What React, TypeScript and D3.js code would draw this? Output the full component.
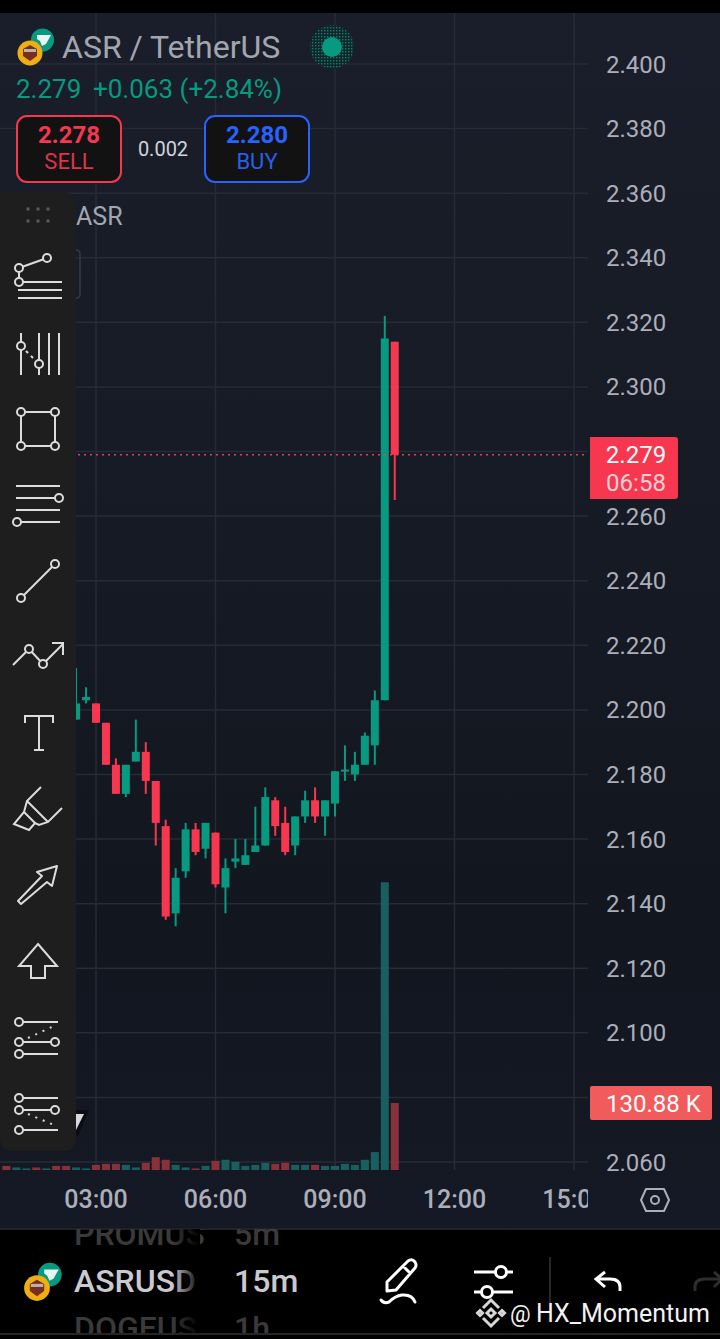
// ASR / TetherUS 15m candlestick chart, phone screenshot layout

import * as d3 from "d3";

const priceTicks = [2.4, 2.38, 2.36, 2.34, 2.32, 2.3, 2.28, 2.26, 2.24, 2.22, 2.2, 2.18, 2.16, 2.14, 2.12, 2.1, 2.08, 2.06];
const hiddenPriceLabels = [2.28, 2.08];
const timeTicks = [3, 6, 9, 12, 15];
const timeLabels = ["03:00", "06:00", "09:00", "12:00", "15:00"];

// first visible candle opens 02:30, one candle each 15 minutes
const candleStart = 2.5;
const opens = [2.197, 2.203, 2.202, 2.196, 2.183, 2.174, 2.184, 2.187, 2.178, 2.164, 2.137, 2.15, 2.163, 2.157, 2.162, 2.145, 2.153, 2.152, 2.156, 2.158, 2.172, 2.165, 2.158, 2.167, 2.172, 2.167, 2.171, 2.181, 2.18, 2.183, 2.189, 2.203, 2.314];
const highs = [2.213, 2.207, 2.202, 2.196, 2.185, 2.183, 2.197, 2.19, 2.178, 2.166, 2.151, 2.165, 2.165, 2.165, 2.162, 2.154, 2.16, 2.16, 2.17, 2.176, 2.173, 2.17, 2.167, 2.175, 2.176, 2.172, 2.181, 2.189, 2.187, 2.193, 2.206, 2.322, 2.314];
const lows = [2.197, 2.202, 2.196, 2.183, 2.174, 2.173, 2.184, 2.174, 2.158, 2.135, 2.133, 2.148, 2.155, 2.154, 2.145, 2.137, 2.151, 2.152, 2.156, 2.158, 2.161, 2.155, 2.155, 2.165, 2.165, 2.161, 2.167, 2.178, 2.178, 2.183, 2.183, 2.203, 2.265];
const closes = [2.202, 2.204, 2.196, 2.183, 2.174, 2.183, 2.187, 2.178, 2.165, 2.136, 2.148, 2.163, 2.156, 2.165, 2.146, 2.151, 2.154, 2.155, 2.158, 2.173, 2.164, 2.156, 2.167, 2.172, 2.167, 2.172, 2.181, 2.1815, 2.183, 2.192, 2.203, 2.315, 2.279];

// volume in thousands, first bar at 00:45
const volumeStart = 0.75;
const volumes = [8, 5, 3, 5, 3, 8, 8, 5, 3, 10, 12, 12, 10, 5, 14, 25, 20, 10, 5, 3, 8, 18, 20, 16, 8, 10, 14, 12, 14, 10, 10, 10, 8, 8, 12, 10, 20, 35, 562, 130.88];
const volumeUp = [0, 1, 1, 0, 1, 0, 0, 1, 1, 0, 0, 0, 1, 1, 0, 0, 0, 1, 1, 0, 1, 0, 1, 1, 1, 1, 1, 0, 0, 1, 1, 0, 1, 1, 1, 1, 1, 1, 1, 0];

const lastPrice = 2.279;
const lastVolume = "130.88 K";

const GREEN = "#089981";
const RED = "#F7374F";
const BLUE = "#2962FF";
const GRID = "#272B36";
const AXIS_TEXT = "#ACAFB9";
const FONT = "Roboto, sans-serif";
const ICON = "#DCDCDC";
const PANEL = "#1E1E1E";

const y = d3.scaleLinear().domain([2.06, 2.4]).range([1162, 64]);
const x = d3.scaleLinear().domain([3, 15]).range([96, 574]);
const volumeY = d3.scaleLinear().domain([0, 130.88]).range([1170, 1103]);

function Dot({ cx, cy }: { cx: number; cy: number }) {
  return <circle cx={cx} cy={cy} r={4} fill={PANEL} stroke={ICON} strokeWidth={2} />;
}

function Toolbar() {
  const common = { stroke: ICON, strokeWidth: 2, fill: "none" };
  const hLine = (yy: number, a: number, b: number) => <line x1={a} x2={b} y1={yy} y2={yy} {...common} />;
  const vLine = (xx: number, a: number, b: number) => <line x1={xx} x2={xx} y1={a} y2={b} {...common} />;
  return (
    <g>
      <path d="M0,192 H64 a12,12 0 0 1 12,12 V1139 a12,12 0 0 1 -12,12 H12 a12,12 0 0 1 -12,-12 Z" fill={PANEL} />
      {[28, 38, 48].flatMap((gx) => [209, 221].map((gy) => <rect key={`${gx}-${gy}`} x={gx - 1.5} y={gy - 1.5} width={3} height={3} fill="#5a5a5a" />))}

      {/* trend fib */}
      <path d="M19,268 L47,258 M19,268 V282" {...common} />
      {hLine(282, 19, 62)}
      {hLine(290, 18, 62)}
      {hLine(298, 18, 62)}
      <Dot cx={47} cy={258} />
      <Dot cx={19} cy={268} />
      <Dot cx={19} cy={282} />

      {/* fib time zones */}
      {vLine(21, 333, 375)}
      {vLine(39, 333, 375)}
      {vLine(49, 333, 375)}
      {vLine(59, 333, 375)}
      <line x1={21} y1={346} x2={39} y2={364} stroke={ICON} strokeWidth={2} strokeDasharray="3 4" />
      <Dot cx={21} cy={346} />
      <Dot cx={39} cy={364} />

      {/* rectangle */}
      <rect x={21} y={412} width={34} height={34} {...common} />
      <Dot cx={21} cy={412} />
      <Dot cx={55} cy={412} />
      <Dot cx={21} cy={446} />
      <Dot cx={55} cy={446} />

      {/* horizontal lines */}
      {hLine(486, 16, 60)}
      {hLine(498, 16, 59)}
      {hLine(510, 16, 60)}
      {hLine(522, 17, 60)}
      <Dot cx={59} cy={498} />
      <Dot cx={17} cy={522} />

      {/* trend line */}
      <line x1={21} y1={598} x2={55} y2={564} {...common} />
      <Dot cx={21} cy={598} />
      <Dot cx={55} cy={564} />

      {/* path */}
      <path d="M13,665 L29,649 L43,664 L63,644 M52,643 H63 V655" {...common} />
      <Dot cx={29} cy={649} />
      <Dot cx={43} cy={664} />

      {/* text */}
      <path d="M25,723 V716 H53 V723 M39,716 V750 M34,750 H44" {...common} />

      {/* highlighter */}
      <path d="M41,787 L27,801 L24,812 L14,824 L29,830 L35,823 L39,825 L48,822 L62,808 M27,801 L48,822 M24,812 L35,823" {...common} />

      {/* arrow */}
      <path d="M57,866 L37,872 L42,876 L18,901 L21,904 L47,882 L52,886 Z" {...common} strokeLinejoin="round" />

      {/* arrow up */}
      <path d="M38,944 L57,966 H45 V978 H31 V966 H19 Z" {...common} />

      {/* fib channel up */}
      {hLine(1022, 19, 58)}
      {hLine(1042, 19, 55)}
      {hLine(1054, 19, 58)}
      <line x1={28} y1={1038} x2={54} y2={1026} stroke={ICON} strokeWidth={2} strokeDasharray="2 6" />
      <Dot cx={19} cy={1022} />
      <Dot cx={19} cy={1042} />
      <Dot cx={55} cy={1042} />
      <Dot cx={19} cy={1054} />

      {/* fib channel down */}
      {hLine(1098, 19, 58)}
      {hLine(1110, 19, 55)}
      {hLine(1130, 19, 58)}
      <line x1={28} y1={1114} x2={54} y2={1125} stroke={ICON} strokeWidth={2} strokeDasharray="2 6" />
      <Dot cx={19} cy={1098} />
      <Dot cx={19} cy={1110} />
      <Dot cx={55} cy={1110} />
      <Dot cx={19} cy={1130} />
    </g>
  );
}

function CoinPair({ cx, cy, scale }: { cx: number; cy: number; scale: number }) {
  return (
    <g transform={`translate(${cx},${cy}) scale(${scale})`}>
      <circle cx={12.5} cy={-13} r={11.5} fill={GREEN} />
      <path d="M7,-18 H21 L16,-9 L12,-7 L10,-12 L7,-14 Z" fill="#E8F5F2" />
      <circle cx={0} cy={0} r={12.5} fill="#EFAE12" />
      <path d="M-7,-4 L0,-8 L7,-4 V3 L0,8 L-7,3 Z" fill="#7A2E22" />
      <rect x={-6} y={-4} width={12} height={3} fill="#B9B4A8" />
    </g>
  );
}

export default function App() {
  const bodyWidth = 8;
  const volumeWidth = 8;

  return (
    <svg
      width={720}
      height={1339}
      viewBox="0 0 720 1339"
      style={{ position: "absolute", left: 0, top: 0, display: "block", fontFamily: FONT }}
    >
      <defs>
        <linearGradient id="chart-bg" x1="0" y1="0" x2="0" y2="1">
          <stop offset="0%" stopColor="#1A1E2A" />
          <stop offset="45%" stopColor="#161A24" />
          <stop offset="75%" stopColor="#12161F" />
          <stop offset="100%" stopColor="#151925" />
        </linearGradient>
        <linearGradient id="symbol-fade" x1="0" y1="0" x2="1" y2="0">
          <stop offset="0%" stopColor="#000" stopOpacity={0} />
          <stop offset="100%" stopColor="#000" stopOpacity={1} />
        </linearGradient>
        <clipPath id="plot-clip">
          <rect x={0} y={13} width={588} height={1215} />
        </clipPath>
        <clipPath id="bottom-clip">
          <rect x={0} y={1229} width={720} height={104} />
        </clipPath>
        <pattern id="halo-dots" width={3} height={3} patternUnits="userSpaceOnUse">
          <rect width={3} height={3} fill="#12262A" />
          <rect width={1.4} height={1.4} fill="#0F7F70" />
        </pattern>
      </defs>

      <rect x={0} y={0} width={720} height={1339} fill="#000" />
      <rect x={0} y={13} width={720} height={1215} fill="url(#chart-bg)" />

      {/* grid */}
      <g stroke={GRID} strokeWidth={1.5}>
        {priceTicks.map((t) => (
          <line key={t} x1={0} x2={588} y1={y(t)} y2={y(t)} />
        ))}
        {timeTicks.map((t) => (
          <line key={t} x1={x(t)} x2={x(t)} y1={13} y2={1170} />
        ))}
      </g>

      {/* volume */}
      <g>
        {volumes.map((v, i) => (
          <rect
            key={i}
            x={x(volumeStart + i * 0.25) - volumeWidth / 2}
            y={volumeY(v)}
            width={volumeWidth}
            height={volumeY(0) - volumeY(v)}
            fill={volumeUp[i] ? "#1A5F60" : "#87323B"}
          />
        ))}
      </g>

      {/* candles */}
      <g>
        {opens.map((open, i) => {
          const close = closes[i];
          const cx = x(candleStart + i * 0.25);
          const color = close >= open ? GREEN : RED;
          const top = y(Math.max(open, close));
          const bottom = y(Math.min(open, close));
          return (
            <g key={i}>
              <rect x={cx - 1} y={y(highs[i])} width={2} height={y(lows[i]) - y(highs[i])} fill={color} />
              <rect x={cx - bodyWidth / 2} y={top} width={bodyWidth} height={Math.max(bottom - top, 2)} fill={color} />
            </g>
          );
        })}
      </g>

      {/* last price line */}
      <line x1={0} x2={588} y1={y(lastPrice)} y2={y(lastPrice)} stroke={RED} strokeWidth={1.5} strokeDasharray="2 4" />

      {/* price axis */}
      <g fontSize={24} fill={AXIS_TEXT}>
        {priceTicks
          .filter((t) => !hiddenPriceLabels.includes(t))
          .map((t) => (
            <text key={t} x={606} y={y(t) + 8.5}>
              {d3.format(".3f")(t)}
            </text>
          ))}
      </g>
      <path d="M590,437 H675 a3,3 0 0 1 3,3 V496 a3,3 0 0 1 -3,3 H590 Z" fill={RED} />
      <text x={636} y={463} fontSize={24} fill="#FFFFFF" textAnchor="middle">
        {d3.format(".3f")(lastPrice)}
      </text>
      <text x={636} y={491} fontSize={24} fill="#FBD0D5" textAnchor="middle">
        06:58
      </text>
      <rect x={590} y={1086} width={122} height={34} rx={2} fill="#F15B5B" />
      <text x={606} y={1112} fontSize={24} fill="#FFFFFF">
        {lastVolume}
      </text>

      {/* time axis */}
      <g clipPath="url(#plot-clip)" fontSize={25} fontWeight={500} fill={AXIS_TEXT} textAnchor="middle">
        {timeTicks.map((t, i) => (
          <text key={t} x={x(t)} y={1208}>
            {timeLabels[i]}
          </text>
        ))}
      </g>
      <path d="M646,1189 H664 L669,1200 L664,1211 H646 L641,1200 Z" fill="none" stroke={AXIS_TEXT} strokeWidth={2} strokeLinejoin="round" />
      <circle cx={655} cy={1200} r={4} fill="none" stroke={AXIS_TEXT} strokeWidth={2} />

      {/* header legend */}
      <CoinPair cx={30} cy={53} scale={1} />
      <text x={62} y={58} fontSize={32} fill="#A3A6AF">
        ASR / TetherUS
      </text>
      <circle cx={332} cy={47} r={22} fill="url(#halo-dots)" />
      <circle cx={332} cy={47} r={10} fill={GREEN} />
      <text x={16} y={98} fontSize={26} fill={GREEN}>
        2.279
      </text>
      <text x={93} y={98} fontSize={26} fill={GREEN}>
        +0.063 (+2.84%)
      </text>

      <rect x={17} y={116} width={104} height={66} rx={10} fill="#121212" stroke={RED} strokeWidth={2} />
      <text x={69} y={143} fontSize={24} fontWeight={700} fill={RED} textAnchor="middle">
        2.278
      </text>
      <text x={69} y={168.5} fontSize={22} fill="#E0334A" textAnchor="middle">
        SELL
      </text>
      <text x={163} y={156} fontSize={20} fill="#D1D4DC" textAnchor="middle">
        0.002
      </text>
      <rect x={205} y={116} width={104} height={66} rx={10} fill="#121212" stroke={BLUE} strokeWidth={2} />
      <text x={257} y={143} fontSize={24} fontWeight={700} fill={BLUE} textAnchor="middle">
        2.280
      </text>
      <text x={257} y={168.5} fontSize={22} fill="#2A5FE8" textAnchor="middle">
        BUY
      </text>
      <text x={76} y={225} fontSize={25} fill="#A3A6AF">
        ASR
      </text>

      {/* bit of the indicator panel showing behind the toolbar */}
      <path d="M72,250 H76 Q80,250 80,254 V294 Q80,298 76,298 H72" fill="none" stroke="#363A45" strokeWidth={1.5} />
      <path d="M70,1110 H89 L78,1136 H70 Z" fill="#0B0D12" />
      <path d="M74,1114 H84 L76,1130 H74 Z" fill="#D8D8DC" />

      <Toolbar />

      {/* bottom bar */}
      <rect x={0} y={1228} width={720} height={2} fill="#222" />
      <rect x={0} y={1333} width={720} height={2} fill="#252525" />
      <g clipPath="url(#bottom-clip)" fontSize={32} fontWeight={500}>
        <text x={74} y={1245} fill="#3A3A3A">
          PROMUS
        </text>
        <text x={234} y={1245} fill="#3A3A3A">
          5m
        </text>
        <text x={74} y={1292} fill="#C9C9CE">
          ASRUSD
        </text>
        <text x={234} y={1292} fill="#C9C9CE">
          15m
        </text>
        <text x={74} y={1339} fill="#3A3A3A">
          DOGEUS
        </text>
        <text x={234} y={1339} fill="#3A3A3A">
          1h
        </text>
        <rect x={172} y={1229} width={28} height={104} fill="url(#symbol-fade)" />
      </g>
      <CoinPair cx={37} cy={1288} scale={1.03} />

      {/* pen */}
      <path d="M387,1291 V1282 L408,1261 Q412,1258 415,1262 Q417,1265 415,1268 L396,1290 Z M403,1266 L411,1274" fill="none" stroke="#FFF" strokeWidth={3} strokeLinejoin="round" />
      <path d="M381,1300 Q384,1304 389,1302 Q395,1296 402,1295 Q412,1294 415,1302" fill="none" stroke="#FFF" strokeWidth={3} strokeLinecap="round" />

      {/* sliders */}
      <g fill="#000" stroke="#FFF" strokeWidth={3}>
        <line x1={474} x2={513} y1={1272} y2={1272} />
        <line x1={474} x2={513} y1={1292} y2={1292} />
        <circle cx={501} cy={1272} r={5.5} />
        <circle cx={487} cy={1292} r={5.5} />
      </g>

      <line x1={550} x2={550} y1={1257} y2={1310} stroke="#333" strokeWidth={1.5} />

      {/* undo / redo */}
      <path d="M620,1291 V1287 Q620,1279 610,1279 H597 M605,1272 L596,1279 L605,1287" fill="none" stroke="#FFF" strokeWidth={3} />
      <path d="M695,1291 V1287 Q695,1279 705,1279 H722 M714,1272 L722,1279 L714,1287" fill="none" stroke="#2E2E2E" strokeWidth={3} />

      {/* watermark */}
      <g fill="none" stroke="#D8D8D8" strokeWidth={3}>
        <path d="M483,1308 L491,1300 L499,1308" />
        <path d="M483,1318 L491,1326 L499,1318" />
        <path d="M491,1309 L495,1313 L491,1317 L487,1313 Z" />
        <path d="M480,1310.5 L482.5,1313 L480,1315.5 L477.5,1313 Z" />
        <path d="M502,1310.5 L504.5,1313 L502,1315.5 L499.5,1313 Z" />
      </g>
      <text x={510} y={1322} fontSize={23} fill="#F2F2F2">
        @
      </text>
      <text x={536} y={1322} fontSize={25} fill="#F2F2F2">
        HX_Momentum
      </text>
    </svg>
  );
}
